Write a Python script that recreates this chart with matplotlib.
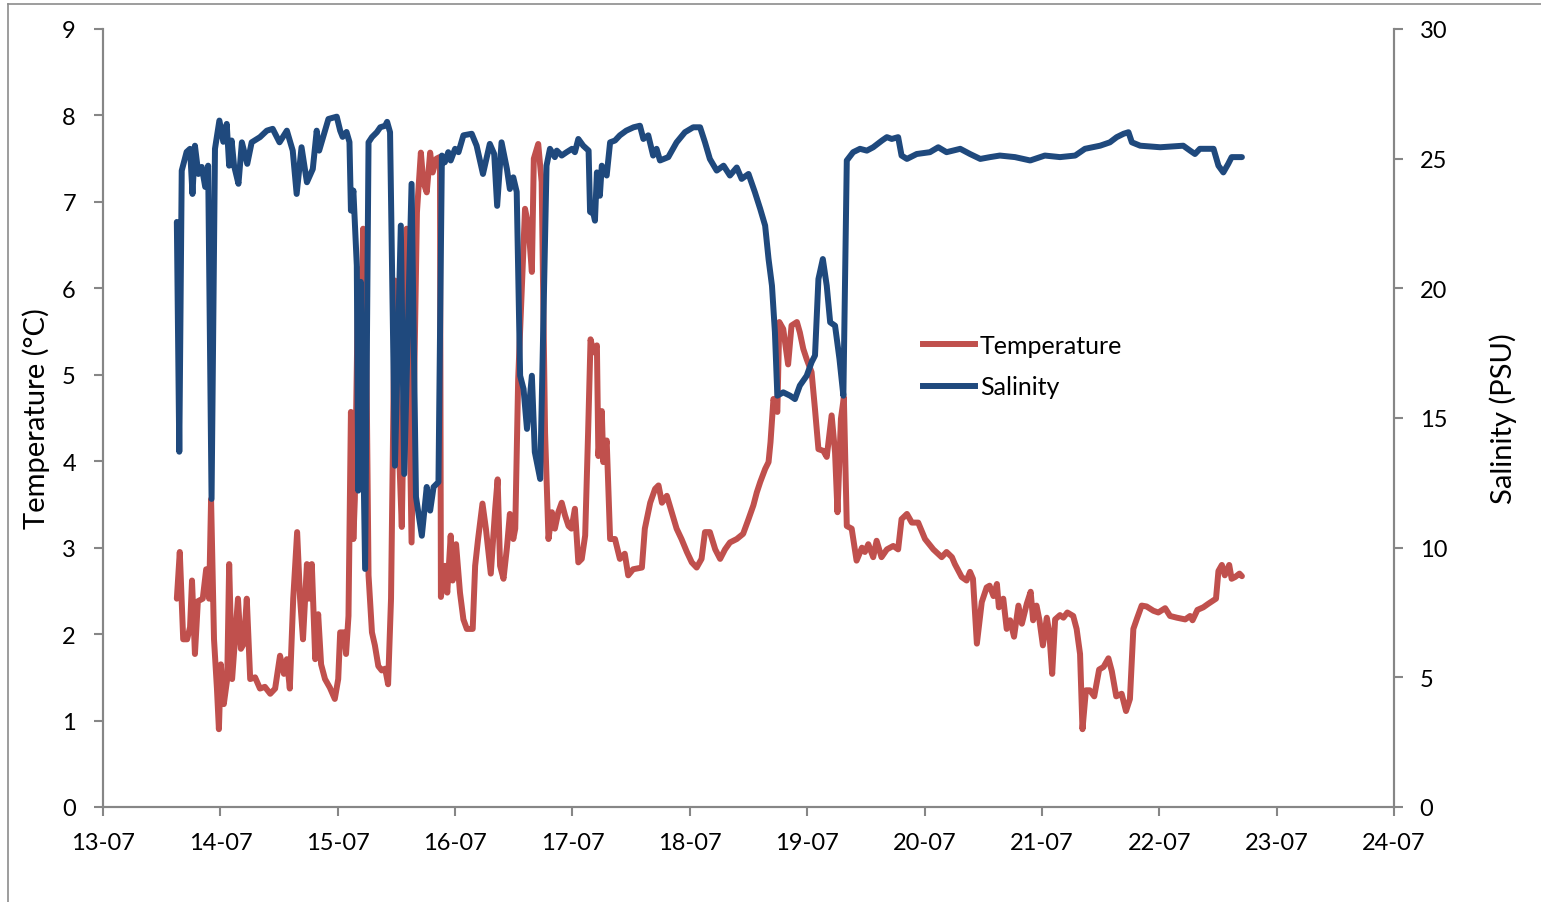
import numpy as np
import pandas as pd
import matplotlib
matplotlib.use('Agg')
import matplotlib.pyplot as plt
import matplotlib.dates as mdates
from matplotlib.lines import Line2D

plt.rcParams['font.family'] = ['Lato', 'DejaVu Sans']

start = pd.Timestamp('2013-07-13')

# hours after 13-07 00:00 and temperature (°C)
temp_hours = [15.1, 15.7, 16.4, 17.2, 17.8, 18.2, 18.8, 19.4, 20.4, 21.1, 21.7, 22.1, 22.7, 23.3, 23.7,
              24.1, 24.7, 25.4, 25.8, 26.4, 27.0, 27.6, 28.2, 28.8, 29.4, 30.1, 31.1, 32.1, 33.1, 34.2,
              35.2, 36.2, 37.0, 37.6, 38.2, 38.9, 39.7, 40.3, 40.9, 41.7, 42.1, 42.7, 43.4, 44.0, 44.6,
              45.4, 46.4, 47.4, 48.1, 48.5, 49.3, 49.7, 50.2, 50.7, 51.2, 51.5, 52.2, 52.8, 53.2, 53.8,
              54.3, 55.0, 55.6, 56.3, 57.0, 57.7, 58.3, 58.9, 59.7, 60.4, 61.1, 62.1, 63.1, 64.2, 65.0,
              65.5, 66.2, 66.9, 67.4, 68.2, 68.9, 69.1, 69.9, 70.4, 71.1, 71.5, 72.2, 73.0, 73.7, 74.4,
              75.6, 76.1, 76.7, 77.6, 78.3, 79.3, 80.2, 80.7, 81.2, 81.9, 82.6, 83.2, 83.9, 84.3, 84.9,
              85.6, 86.3, 87.0, 87.7, 88.1, 89.0, 89.7, 90.4, 91.1, 91.8, 92.4, 93.1, 93.8, 94.5, 95.2,
              95.8, 96.5, 97.2, 97.9, 98.6, 99.2, 99.7, 100.3, 101.0, 101.3, 102.0, 102.3, 103.0, 103.7,
              104.7, 105.7, 106.7, 107.4, 108.4, 110.2, 110.8, 111.9, 112.9, 113.6, 114.3, 115.3, 116.3,
              117.3, 118.3, 119.4, 120.4, 121.4, 122.4, 123.1, 124.1, 125.2, 126.2, 127.2, 128.2, 129.6,
              130.9, 132.0, 133.0, 133.7, 134.4, 135.4, 136.1, 136.5, 137.1, 137.9, 138.3, 139.1, 140.1,
              140.8, 141.9, 142.5, 143.2, 143.9, 144.9, 145.6, 146.3, 147.3, 148.0, 149.0, 149.7, 150.2,
              150.9, 151.5, 152.1, 153.1, 154.1, 155.2, 155.8, 156.5, 157.5, 158.2, 159.2, 160.3, 161.6,
              162.6, 163.3, 164.4, 165.4, 166.7, 168.1, 169.8, 171.5, 172.5, 173.6, 174.2, 175.6, 176.6,
              177.3, 177.9, 178.7, 179.7, 180.7, 181.3, 182.1, 182.8, 183.2, 184.1, 184.8, 185.5, 186.3,
              187.2, 187.9, 188.9, 189.7, 190.2, 190.9, 191.5, 192.2, 193.0, 193.5, 194.1, 194.7, 195.7,
              196.4, 197.2, 198.4, 199.1, 199.8, 200.3, 201.0, 201.8, 202.7, 203.7, 204.6, 205.6, 206.3,
              207.2, 208.3, 209.2, 210.0, 210.7, 211.5, 212.4, 213.4, 214.8, 215.8, 217.2, 218.2, 219.6,
              221.3, 222.3, 222.8, 223.8, 225.0, 226.0, 227.6, 228.1, 228.8, 229.4, 230.3, 230.8, 231.5,
              232.4, 232.9]
temperature = [2.41, 2.95, 1.94, 1.94, 2.08, 2.62, 1.77, 2.38, 2.41, 2.75, 2.41, 3.56, 1.94, 1.37, 0.90,
               1.65, 1.19, 1.48, 2.81, 1.48, 1.94, 2.41, 1.83, 1.89, 2.41, 1.48, 1.50, 1.37, 1.39, 1.31,
               1.37, 1.75, 1.54, 1.71, 1.37, 2.41, 3.18, 2.41, 1.94, 2.81, 2.41, 2.81, 1.71, 2.23, 1.65,
               1.48, 1.38, 1.25, 1.48, 2.02, 2.02, 1.77, 2.21, 4.57, 3.10, 3.56, 6.22, 5.53, 6.69, 5.53,
               2.68, 2.02, 1.87, 1.63, 1.58, 1.60, 1.42, 2.41, 6.09, 4.33, 3.24, 6.69, 3.06, 6.88, 7.57,
               7.23, 7.11, 7.57, 7.34, 7.50, 7.52, 2.43, 2.79, 2.48, 3.14, 2.62, 3.04, 2.48, 2.17, 2.06,
               2.06, 2.79, 3.10, 3.51, 3.22, 2.70, 3.45, 3.79, 2.79, 2.64, 3.00, 3.39, 3.10, 3.22, 4.95,
               5.95, 6.92, 6.72, 6.19, 7.50, 7.67, 7.23, 4.33, 3.10, 3.41, 3.22, 3.41, 3.52, 3.37, 3.25,
               3.22, 3.45, 2.83, 2.87, 3.14, 4.33, 5.41, 5.26, 5.34, 4.06, 4.58, 3.99, 4.24, 3.10,
               3.10, 2.87, 2.93, 2.68, 2.75, 2.77, 3.22, 3.52, 3.68, 3.72, 3.52, 3.60, 3.41,
               3.22, 3.10, 2.95, 2.83, 2.77, 2.87, 3.18, 3.18, 2.98, 2.87, 2.98, 3.06, 3.10,
               3.16, 3.33, 3.49, 3.64, 3.76, 3.91, 3.99, 4.22, 4.72, 4.57, 5.61, 5.53, 5.12,
               5.57, 5.61, 5.49, 5.30, 5.18, 5.03, 4.60, 4.14, 4.12, 4.05, 4.53, 4.10, 3.41,
               4.49, 4.74, 3.25, 3.22, 2.85, 3.00, 2.95, 3.04, 2.89, 3.08, 2.89, 2.98, 3.02,
               2.98, 3.33, 3.39, 3.29, 3.29, 3.10, 2.98, 2.89, 2.95, 2.89, 2.81, 2.66, 2.62,
               2.72, 2.64, 1.89, 2.37, 2.54, 2.56, 2.44, 2.58, 2.31, 2.41, 2.06, 2.16, 1.97,
               2.33, 2.12, 2.35, 2.49, 2.16, 2.33, 2.16, 1.87, 2.19, 2.02, 1.54, 2.17, 2.22,
               2.19, 2.25, 2.21, 2.06, 1.77, 0.90, 1.35, 1.35, 1.28, 1.59, 1.62, 1.72, 1.57,
               1.28, 1.31, 1.11, 1.25, 2.06, 2.19, 2.33, 2.32, 2.27, 2.25, 2.30, 2.21, 2.19,
               2.17, 2.21, 2.16, 2.28, 2.31, 2.35, 2.41, 2.73, 2.80, 2.68, 2.80, 2.64, 2.66,
               2.70, 2.67]

# hours after 13-07 00:00 and salinity (PSU)
sal_hours = [15.1, 15.6, 16.1, 17.1, 17.8, 18.3, 18.8, 19.5, 20.2, 20.9, 21.5, 22.2, 22.9, 23.8, 24.6,
             25.3, 25.8, 26.3, 26.8, 27.7, 28.4, 29.5, 30.4, 32.1, 33.5, 34.7, 36.1, 37.6, 38.8, 39.6,
             40.6, 41.7, 42.9, 43.7, 44.2, 46.1, 47.8, 48.5, 49.0, 49.8, 50.4, 50.7, 51.2, 51.9, 52.2,
             52.7, 53.6, 54.3, 55.0, 56.0, 56.7, 57.7, 58.1, 58.7, 59.7, 60.9, 61.6, 63.1, 64.0, 65.2,
             66.2, 66.9, 67.6, 68.6, 69.3, 69.9, 70.6, 71.1, 72.0, 72.7, 73.7, 75.4, 76.4, 77.7, 79.1,
             80.0, 80.6, 81.5, 82.6, 83.2, 83.9, 84.6, 85.3, 86.0, 86.7, 87.7, 88.3, 89.4, 90.0, 90.7,
             91.4, 92.4, 92.8, 93.8, 94.8, 95.9, 96.5, 97.2, 98.2, 99.3, 99.6, 100.3, 100.6, 101.0,
             101.6, 102.0, 103.0, 103.7, 104.7, 105.7, 107.0, 108.5, 109.8, 110.5, 111.5, 112.5, 113.2,
             113.9, 115.6, 117.3, 119.0, 120.7, 122.1, 123.1, 124.1, 125.5, 126.9, 128.2, 129.6, 130.6,
             132.0, 133.3, 134.4, 135.4, 136.1, 136.8, 137.4, 137.9, 139.1, 140.5, 141.5, 142.5, 143.9,
             144.9, 145.6, 146.3, 147.2, 148.0, 148.7, 149.7, 150.6, 151.4, 152.1, 153.4, 154.8, 156.2,
             157.5, 159.3, 160.3, 161.3, 162.6, 163.3, 164.4, 166.4, 169.1, 170.8, 172.5, 175.3, 177.3,
             179.4, 181.4, 183.4, 186.5, 189.6, 192.6, 195.7, 198.8, 200.8, 203.9, 205.9, 207.3, 208.7,
             209.7, 210.4, 212.1, 216.2, 220.9, 222.3, 223.3, 224.3, 227.1, 228.1, 229.1, 230.1, 230.8,
             232.9]
salinity = [22.56, 13.70, 24.54, 25.26, 25.38, 23.64, 25.50, 24.41, 24.68, 23.91, 24.73, 11.88, 25.38,
            26.47, 25.65, 26.34, 24.73, 25.70, 24.73, 24.03, 25.63, 24.80, 25.63, 25.83, 26.08, 26.15,
            25.63, 26.08, 25.31, 23.64, 25.44, 24.09, 24.60, 26.08, 25.31, 26.53, 26.62, 26.08, 25.84,
            26.03, 25.64, 23.00, 23.77, 20.88, 12.20, 20.25, 9.18, 25.63, 25.83, 26.02, 26.21, 26.27,
            26.42, 26.02, 13.16, 22.42, 12.84, 24.03, 11.96, 10.46, 12.34, 11.43, 12.34, 12.53, 25.12,
            24.86, 25.25, 24.93, 25.38, 25.25, 25.90, 25.96, 25.50, 24.41, 25.57, 25.18, 23.18, 25.63,
            24.60, 23.83, 24.28, 23.72, 16.63, 16.12, 14.58, 16.63, 13.69, 12.65, 18.32, 24.73, 25.38,
            25.06, 25.31, 25.12, 25.25, 25.38, 25.25, 25.76, 25.50, 25.31, 22.95, 22.87, 22.61, 24.47,
            23.57, 24.73, 24.35, 25.63, 25.70, 25.90, 26.08, 26.21, 26.27, 25.76, 25.90, 25.12, 25.38,
            24.93, 25.06, 25.63, 26.02, 26.21, 26.21, 25.63, 24.99, 24.54, 24.73, 24.35, 24.66, 24.22,
            24.41, 23.71, 23.06, 22.42, 21.13, 20.10, 18.31, 15.86, 15.99, 15.86, 15.73, 16.25, 16.63,
            17.15, 17.41, 20.36, 21.13, 20.10, 18.69, 18.56, 17.28, 15.86, 24.93, 25.25, 25.38, 25.31,
            25.44, 25.70, 25.83, 25.76, 25.83, 25.12, 24.99, 25.18, 25.25, 25.44, 25.25, 25.38, 25.18,
            24.99, 25.06, 25.12, 25.06, 24.93, 25.12, 25.06, 25.12, 25.38, 25.50, 25.63, 25.83, 25.96,
            26.02, 25.63, 25.50, 25.44, 25.50, 25.31, 25.18, 25.38, 25.38, 24.73, 24.47, 24.80, 25.06,
            25.06]

day_labels = ['13-07', '14-07', '15-07', '16-07', '17-07', '18-07', '19-07', '20-07',
              '21-07', '22-07', '23-07', '24-07']

t_time = start + pd.to_timedelta(temp_hours, unit='h')
s_time = start + pd.to_timedelta(sal_hours, unit='h')

axis_grey = '#868686'
red = '#C0504D'
blue = '#1F497D'
lw = 4.3

fig = plt.figure(figsize=(15.41, 9.03), dpi=100)
ax = fig.add_axes([103 / 1541, 1 - 808 / 903, (1394 - 103) / 1541, (808 - 30) / 903])
ax2 = ax.twinx()

ax.plot(t_time, temperature, color=red, lw=lw, solid_joinstyle='round', solid_capstyle='round')
ax2.plot(s_time, salinity, color=blue, lw=lw, solid_joinstyle='round', solid_capstyle='round')

ax.set_xlim(start, start + pd.Timedelta(days=11))
ax.set_ylim(0, 9)
ax2.set_ylim(0, 30)
ax.set_yticks(range(0, 10))
ax2.set_yticks(range(0, 31, 5))

ticks = [start + pd.Timedelta(days=i) for i in range(len(day_labels))]
ax.set_xticks(ticks)
ax.set_xticklabels(day_labels)

for a in (ax, ax2):
    a.spines['top'].set_visible(False)
    for s in ('left', 'right', 'bottom'):
        a.spines[s].set_color(axis_grey)
        a.spines[s].set_linewidth(1.5)
    a.tick_params(colors=axis_grey, labelcolor='black', width=1.5, length=6.5,
                  direction='out', labelsize=17)
ax.tick_params(axis='y', pad=13)
ax2.tick_params(axis='y', pad=12)
ax.tick_params(axis='x', pad=11.5)

ax.set_ylabel('Temperature (°C)', fontsize=21, labelpad=9)
ax2.set_ylabel('Salinity (PSU)', fontsize=21, labelpad=30)

handles = [Line2D([], [], color=red, lw=lw), Line2D([], [], color=blue, lw=lw)]
fig.legend(handles, ['Temperature', 'Salinity'], loc='center left',
           bbox_to_anchor=(900 / 1541, 1 - 367 / 903), frameon=False, fontsize=18,
           handlelength=2.1, handletextpad=0.2, labelspacing=0.75)

# outer border of the chart area
fig.add_artist(Line2D([7.5 / 1541, 7.5 / 1541], [0, 1 - 5 / 903], color='#8c8c8c', lw=1.2))
fig.add_artist(Line2D([7.5 / 1541, 1], [1 - 5 / 903, 1 - 5 / 903], color='#8c8c8c', lw=1.2))

fig.savefig('out.png', dpi=100)
